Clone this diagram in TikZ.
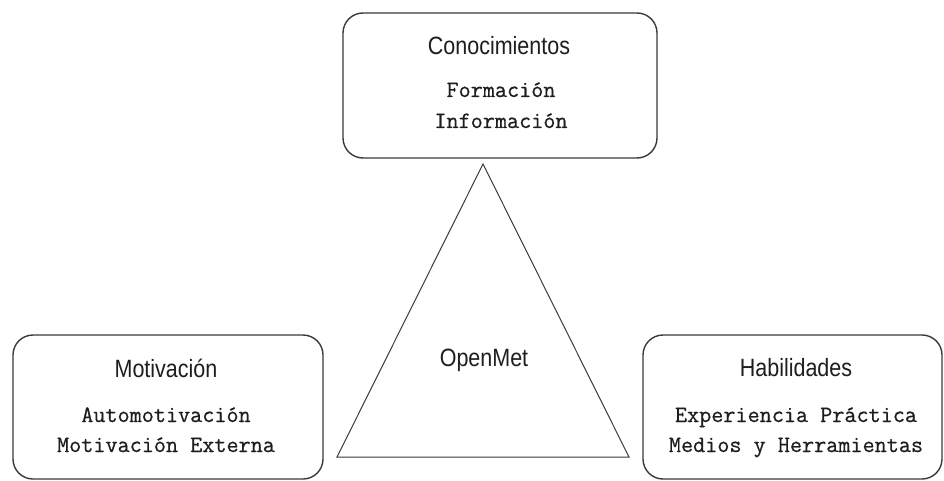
\documentclass[tikz,border=0pt]{standalone}
\usepackage{fontspec}
\newfontfamily\titlefont[FakeStretch=0.86]{Liberation Sans}
\newfontfamily\itemfont[FakeBold=0.6]{Latin Modern Mono}
\definecolor{edgegray}{HTML}{3A3A3A}
\definecolor{inkgray}{HTML}{1E1E1E}
\tikzset{
  boxshape/.style={draw=edgegray, line width=1.4pt, rounded corners=20pt, fill=white},
  titletext/.style={anchor=base, inner sep=0pt, text=inkgray, font=\titlefont\fontsize{25}{30}\selectfont},
  itemtext/.style={anchor=base, inner sep=0pt, text=inkgray, font=\itemfont\fontsize{23.5}{28}\selectfont},
  triline/.style={draw=edgegray, line width=1pt, line join=miter}
}
\begin{document}
\begin{tikzpicture}[x=1pt,y=-1pt]
\useasboundingbox (0,0) rectangle (944,481);
% boxes
\draw[boxshape] (343,13) rectangle (657,158);
\node[inner sep=0pt] (topbox) at (500,85) {};
\draw[boxshape] (13,335) rectangle (323,479);
\node[inner sep=0pt] (leftbox) at (168,407) {};
\draw[boxshape] (643,335) rectangle (942,479);
\node[inner sep=0pt] (rightbox) at (792.5,407) {};
% triangle
\coordinate (apex) at (483,164);
\coordinate (bl) at (337,457);
\coordinate (br) at (629,457);
\draw[triline] (apex) -- (br) -- (bl) -- cycle;
% texts
\node[titletext] (t1) at (499,55) {Conocimientos};
\node[itemtext] (t1a) at (501,97) {Formación};
\node[itemtext] (t1b) at (501,128) {Información};
\node[titletext] (t2) at (166,377) {Motivación};
\node[itemtext] (t2a) at (166,422) {Automotivación};
\node[itemtext] (t2b) at (166,452) {Motivación Externa};
\node[titletext] (t3) at (796,376) {Habilidades};
\node[itemtext] (t3a) at (796,422) {Experiencia Práctica};
\node[itemtext] (t3b) at (796,452) {Medios y Herramientas};
\node[titletext] (om) at (484,366) {OpenMet};
\end{tikzpicture}
\end{document}
